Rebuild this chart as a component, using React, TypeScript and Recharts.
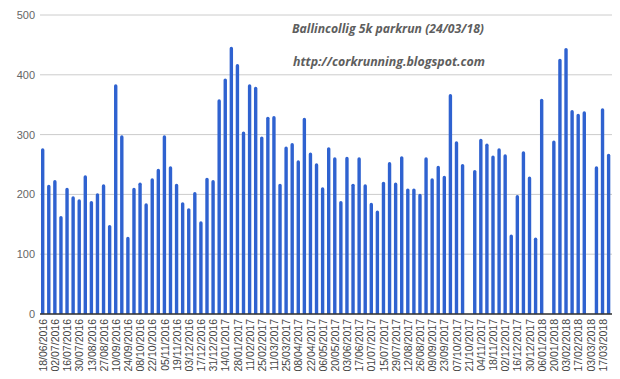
import React from "react";
import { BarChart, Bar, XAxis, YAxis, CartesianGrid } from "recharts";

const dates: string[] = [
  "18/06/2016", "25/06/2016", "02/07/2016", "09/07/2016", "16/07/2016", "23/07/2016", "30/07/2016",
  "06/08/2016", "13/08/2016", "20/08/2016", "27/08/2016", "03/09/2016", "10/09/2016", "17/09/2016",
  "24/09/2016", "01/10/2016", "08/10/2016", "15/10/2016", "22/10/2016", "29/10/2016", "05/11/2016",
  "12/11/2016", "19/11/2016", "26/11/2016", "03/12/2016", "10/12/2016", "17/12/2016", "24/12/2016",
  "31/12/2016", "07/01/2017", "14/01/2017", "21/01/2017", "28/01/2017", "04/02/2017", "11/02/2017",
  "18/02/2017", "25/02/2017", "04/03/2017", "11/03/2017", "18/03/2017", "25/03/2017", "01/04/2017",
  "08/04/2017", "15/04/2017", "22/04/2017", "29/04/2017", "06/05/2017", "13/05/2017", "20/05/2017",
  "27/05/2017", "03/06/2017", "10/06/2017", "17/06/2017", "24/06/2017", "01/07/2017", "08/07/2017",
  "15/07/2017", "22/07/2017", "29/07/2017", "05/08/2017", "12/08/2017", "19/08/2017", "26/08/2017",
  "02/09/2017", "09/09/2017", "16/09/2017", "23/09/2017", "30/09/2017", "07/10/2017", "14/10/2017",
  "21/10/2017", "28/10/2017", "04/11/2017", "11/11/2017", "18/11/2017", "25/11/2017", "02/12/2017",
  "09/12/2017", "16/12/2017", "23/12/2017", "30/12/2017", "01/01/2018", "06/01/2018", "13/01/2018",
  "20/01/2018", "27/01/2018", "03/02/2018", "10/02/2018", "17/02/2018", "24/02/2018", "03/03/2018",
  "10/03/2018", "17/03/2018", "24/03/2018",
];

const runners: (number | null)[] = [
  277, 216, 224, 164, 211, 197, 192, 232, 189, 202, 217, 149, 384, 299, 129, 211, 220, 185, 227, 243,
  299, 247, 218, 187, 177, 204, 155, 228, 224, 359, 394, 447, 418, 305, 384, 380, 297, 330, 331, 218,
  280, 286, 257, 328, 270, 252, 212, 279, 262, 189, 263, 218, 262, 217, 186, 173, 221, 254, 220, 264,
  210, 210, 201, 262, 227, 248, 231, 368, 289, 251, null, 241, 293, 285, 265, 277, 267, 133, 199, 272,
  230, 128, 360, null, 290, 427, 445, 341, 335, 339, null, 247, 344, 268,
];

const yTicks: number[] = [0, 100, 200, 300, 400, 500];

const titleLine1 = "Ballincollig 5k parkrun (24/03/18)";
const titleLine2 = "http://corkrunning.blogspot.com";

const data = dates.map((d, i) => ({ date: d, runners: runners[i] }));

const DateTick = (props: any) => {
  const { x, y, payload } = props;
  return (
    <text
      x={0}
      y={0}
      transform={`translate(${x + 3.8},${y - 3}) rotate(-90)`}
      textAnchor="end"
      fontSize={10.5}
      fill="#444"
      fontFamily="'Liberation Sans', Arial, sans-serif"
    >
      {payload.value}
    </text>
  );
};

const titleFont = {
  fontFamily: "'Open Sans', Lato, sans-serif",
  fontStyle: "italic" as const,
  fontWeight: 700,
  fontSize: 12.5,
  fill: "#5e5e5e",
};

export default function App() {
  return (
    <div style={{ position: "absolute", left: 0, top: 0, width: 620, height: 379, background: "#fff" }}>
      <BarChart
        width={620}
        height={379}
        data={data}
        margin={{ top: 15, right: 8, left: 0, bottom: 0 }}
        barCategoryGap={0}
      >
        <CartesianGrid vertical={false} stroke="#cccccc" />
        <XAxis
          dataKey="date"
          interval={1}
          tickLine={false}
          axisLine={{ stroke: "#333", strokeWidth: 1.5 }}
          tick={<DateTick />}
          height={65}
        />
        <YAxis
          domain={[0, 500]}
          ticks={yTicks}
          width={40}
          axisLine={false}
          tickLine={false}
          tickSize={0}
          tickMargin={5}
          tick={{ fontSize: 11, fill: "#666", fontFamily: "'Liberation Sans', Arial, sans-serif" }}
        />
        <Bar
          dataKey="runners"
          fill="#2f62d0"
          barSize={3.4}
          radius={[1.7, 1.7, 0, 0]}
          isAnimationActive={false}
        />
      </BarChart>
      <svg
        width={620}
        height={80}
        style={{ position: "absolute", left: 0, top: 0, pointerEvents: "none" }}
      >
        <text x={292} y={32.5} textLength={192} lengthAdjust="spacingAndGlyphs" {...titleFont}>
          {titleLine1}
        </text>
        <text x={293} y={65.5} textLength={192} lengthAdjust="spacingAndGlyphs" {...titleFont}>
          {titleLine2}
        </text>
      </svg>
    </div>
  );
}
